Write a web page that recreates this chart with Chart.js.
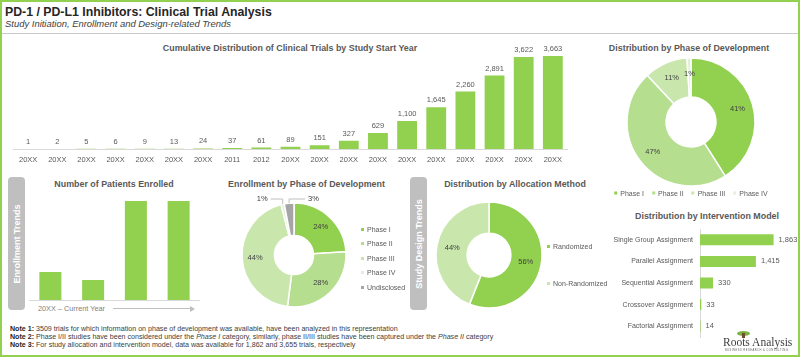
<!DOCTYPE html>
<html><head><meta charset="utf-8">
<script src="https://cdn.jsdelivr.net/npm/chart.js@4.4.1/dist/chart.umd.min.js"></script>
<style>
html,body{margin:0;padding:0;}
body{width:800px;height:357px;position:relative;overflow:hidden;background:#fff;font-family:"Liberation Sans",Arial,sans-serif;}
#frame{position:absolute;left:0;top:0;width:800px;height:357px;box-sizing:border-box;border:2px solid #92D050;pointer-events:none;}
#hline{position:absolute;left:2px;top:33px;width:796px;height:1px;background:#C8C8C8;}
canvas{position:absolute;}
.t{position:absolute;line-height:1;white-space:nowrap;}
.ctr{transform:translate(-50%,-50%);}
.lft{transform:translateY(-50%);}
.ctitle{font-weight:bold;font-size:8.9px;color:#595959;}
.side{position:absolute;background:#BFBFBF;border-radius:4px;}
.side span{position:absolute;left:50%;top:50%;transform:translate(-50%,-50%) rotate(-90deg);color:#fff;font-weight:bold;font-size:9px;white-space:nowrap;line-height:1;}
.leg{position:absolute;font-size:7px;color:#595959;line-height:1;white-space:nowrap;}
.leg .it{display:flex;align-items:center;}
.leg .mk{width:3px;height:3px;margin-right:3px;display:inline-block;}
.note{position:absolute;left:10px;font-size:7.1px;color:#404040;line-height:1;white-space:nowrap;transform:translateY(-50%);}
.note b{color:#262626;}
</style>
</head><body>
<div id="frame"></div>
<div id="hline"></div>
<div class="t lft" style="left:5px;top:11.5px;font-size:12.3px;font-weight:bold;color:#262626;">PD-1 / PD-L1 Inhibitors: Clinical Trial Analysis</div>
<div class="t lft" style="left:5px;top:24px;font-size:9.45px;font-style:italic;color:#404040;">Study Initiation, Enrollment and Design-related Trends</div>

<div class="t ctr ctitle" style="left:290px;top:48.3px;">Cumulative Distribution of Clinical Trials by Study Start Year</div>
<div class="t ctr ctitle" style="left:689px;top:48px;">Distribution by Phase of Development</div>
<div class="t ctr ctitle" style="left:114px;top:183.7px;">Number of Patients Enrolled</div>
<div class="t ctr ctitle" style="left:306.5px;top:183.7px;">Enrollment by Phase of Development</div>
<div class="t ctr ctitle" style="left:515px;top:183.7px;">Distribution by Allocation Method</div>
<div class="t ctr ctitle" style="left:707px;top:215.5px;">Distribution by Intervention Model</div>

<div class="side" style="left:8px;top:177px;width:17px;height:133px;"><span>Enrollment Trends</span></div>
<div class="side" style="left:410px;top:177px;width:17px;height:133px;"><span>Study Design Trends</span></div>

<div class="t lft" style="left:38px;top:309px;font-size:7.3px;color:#7F7F7F;">20XX – Current Year</div>
<div style="position:absolute;left:113px;top:308px;width:77px;height:1px;background:#BFBFBF;"></div>
<div style="position:absolute;left:190px;top:305.5px;width:0;height:0;border-top:3px solid transparent;border-bottom:3px solid transparent;border-left:5px solid #BFBFBF;"></div>

<canvas id="cTrials" width="555" height="130" style="left:13px;top:40px;"></canvas>
<canvas id="cPhase" width="140" height="140" style="left:621px;top:52px;"></canvas>
<canvas id="cEnrollBar" width="171" height="102" style="left:29px;top:199px;"></canvas>
<canvas id="cEnrollPhase" width="140" height="140" style="left:224px;top:185px;"></canvas>
<canvas id="cAlloc" width="130" height="130" style="left:424px;top:190px;"></canvas>
<canvas id="cModel" width="252" height="132" style="left:545px;top:217px;"></canvas>

<div id="legPhase" class="leg" style="left:691px;top:192.7px;transform:translate(-50%,-50%);display:flex;gap:8px;"></div>
<div id="legEnroll" class="leg" style="left:361px;top:229px;"></div>
<div id="legAlloc" class="leg" style="left:547px;top:246px;"></div>

<div class="note" style="top:330px;"><b>Note 1:</b> 3509 trials for which information on phase of development was available, have been analyzed in this representation</div>
<div class="note" style="top:338px;"><b>Note 2:</b> Phase I/II studies have been considered under the <i>Phase I</i> category, similarly, phase II/III studies have been captured under the <i>Phase II</i> category</div>
<div class="note" style="top:346px;"><b>Note 3:</b> For study allocation and intervention model, data was available for 1,862 and 3,655 trials, respectively</div>

<!-- logo -->
<div style="position:absolute;left:737px;top:331px;width:13px;height:5px;border-radius:50%;background:#7CB342;"></div>
<div style="position:absolute;left:742px;top:333px;width:3px;height:5px;background:#6D4C2F;"></div>
<div class="t lft" style="left:723px;top:343px;font-family:'Liberation Serif',serif;font-size:11.5px;color:#404040;">Roots Analysis</div>
<div class="t lft" style="left:725px;top:350.5px;font-size:2.6px;letter-spacing:0.5px;color:#595959;">BUSINESS RESEARCH &amp; CONSULTING</div>

<script>
// ---------------- DATA ----------------
const startYears = ['20XX','20XX','20XX','20XX','20XX','20XX','20XX','2011','2012','20XX','20XX','20XX','20XX','20XX','20XX','20XX','20XX','20XX','20XX'];
const cumulativeTrials = [1,2,5,6,9,13,24,37,61,89,151,327,629,1100,1645,2260,2891,3622,3663];

const phases = ['Phase I','Phase II','Phase III','Phase IV'];
const phaseShare = [41,47,11,1];

const enrollPeriods = ['Period 1','Period 2','Period 3','Period 4'];
const patientsEnrolled = [28,20,99,99];

const enrollPhases = ['Phase I','Phase II','Phase III','Phase IV','Undisclosed'];
const enrollShare = [24,28,44,1,3];

const allocMethods = ['Randomized','Non-Randomized'];
const allocShare = [56,44];

const interventionModels = ['Single Group Assignment','Parallel Assignment','Sequential Assignment','Crossover Assignment','Factorial Assignment'];
const interventionTrials = [1863,1415,330,33,14];

// ---------------- STYLE ----------------
const GREEN = '#92D050';
const phaseColors = ['#92D050','#B5DE8F','#C9E7AD','#E2F0D9'];
const enrollColors = ['#92D050','#B5DE8F','#C9E7AD','#E2F0D9','#A5A5A5'];
const allocColors = ['#92D050','#C9E7AD'];
const FONT = "'Liberation Sans', Arial, sans-serif";

Chart.defaults.font.family = FONT;
Chart.defaults.color = '#595959';
Chart.defaults.animation = false;

const valueLabels = {
  id: 'valueLabels',
  afterDatasetsDraw(chart, args, opts) {
    const ctx = chart.ctx;
    ctx.save();
    ctx.font = (opts.size || 7.5) + 'px ' + FONT;
    ctx.fillStyle = opts.color || '#595959';
    const ds = chart.data.datasets[0].data;
    chart.getDatasetMeta(0).data.forEach((el, i) => {
      const txt = ds[i].toLocaleString('en-US');
      if (chart.options.indexAxis === 'y') {
        ctx.textAlign = 'left'; ctx.textBaseline = 'middle';
        ctx.fillText(txt, el.x + opts.offset, el.y);
      } else {
        ctx.textAlign = 'center'; ctx.textBaseline = 'middle';
        ctx.fillText(txt, el.x, el.y - opts.offset);
      }
    });
    ctx.restore();
  }
};

const pctLabels = {
  id: 'pctLabels',
  afterDatasetsDraw(chart, args, opts) {
    const ctx = chart.ctx;
    const ds = chart.data.datasets[0].data;
    ctx.save();
    ctx.font = '7.5px ' + FONT;
    ctx.fillStyle = '#404040';
    ctx.strokeStyle = '#BFBFBF';
    ctx.lineWidth = 1;
    let outsideCount = 0;
    chart.getDatasetMeta(0).data.forEach((arc, i) => {
      const v = ds[i];
      const txt = v + '%';
      const p = arc.getProps(['x','y','startAngle','endAngle','innerRadius','outerRadius'], true);
      const mid = (p.startAngle + p.endAngle) / 2;
      if (opts.outsideBelow && v < opts.outsideBelow) {
        const ax = p.x + Math.cos(mid) * p.outerRadius;
        const ay = p.y + Math.sin(mid) * p.outerRadius;
        const ly = p.y - p.outerRadius - 4;
        const dir = outsideCount === 0 ? -1 : 1;
        outsideCount++;
        const ex = ax + dir * (dir < 0 ? 12 : 16);
        ctx.beginPath(); ctx.moveTo(ax, ay); ctx.lineTo(ax, ly); ctx.lineTo(ex, ly); ctx.stroke();
        ctx.textBaseline = 'middle';
        ctx.textAlign = dir < 0 ? 'right' : 'left';
        ctx.fillText(txt, ex + dir * 3, ly);
      } else {
        const r = p.innerRadius + (p.outerRadius - p.innerRadius) * (opts.frac || 0.5);
        ctx.textAlign = 'center'; ctx.textBaseline = 'middle';
        ctx.fillText(txt, p.x + Math.cos(mid) * r, p.y + Math.sin(mid) * r);
      }
    });
    ctx.restore();
  }
};

const base = {
  responsive: false,
  maintainAspectRatio: false,
  devicePixelRatio: 1,
  animation: false,
  events: [],
  plugins: { legend: { display: false }, tooltip: { enabled: false } }
};

// Cumulative bar chart
new Chart(document.getElementById('cTrials'), {
  type: 'bar',
  data: { labels: startYears, datasets: [{ data: cumulativeTrials, backgroundColor: GREEN, categoryPercentage: 1, barPercentage: 0.68 }] },
  options: Object.assign({}, base, {
    layout: { padding: { top: 16, left: 0, right: 0, bottom: 0 } },
    plugins: Object.assign({}, base.plugins, { valueLabels: { offset: 7 } }),
    scales: {
      x: { grid: { display: false, drawTicks: false }, border: { display: true, color: '#D9D9D9' },
           ticks: { font: { size: 7.5 }, color: '#595959', padding: 6, maxRotation: 0, autoSkip: false } },
      y: { display: false, min: 0, max: 3663 }
    }
  }),
  plugins: [valueLabels]
});

// Phase doughnut
new Chart(document.getElementById('cPhase'), {
  type: 'doughnut',
  data: { labels: phases, datasets: [{ data: phaseShare, backgroundColor: phaseColors, borderColor: '#fff', borderWidth: 1.5 }] },
  options: Object.assign({}, base, {
    radius: 64, cutout: 27,
    plugins: Object.assign({}, base.plugins, { pctLabels: { frac: 0.6 } })
  }),
  plugins: [pctLabels]
});

// Enrollment bars
new Chart(document.getElementById('cEnrollBar'), {
  type: 'bar',
  data: { labels: enrollPeriods, datasets: [{ data: patientsEnrolled, backgroundColor: GREEN, categoryPercentage: 1, barPercentage: 0.515 }] },
  options: Object.assign({}, base, {
    layout: { padding: { top: 1, bottom: 1 } },
    scales: {
      x: { grid: { display: false, drawTicks: false }, border: { display: true, color: '#D9D9D9' }, ticks: { display: false } },
      y: { display: false, min: 0, max: 100 }
    }
  })
});

// Enrollment by phase doughnut
new Chart(document.getElementById('cEnrollPhase'), {
  type: 'doughnut',
  data: { labels: enrollPhases, datasets: [{ data: enrollShare, backgroundColor: enrollColors, borderColor: '#fff', borderWidth: 1.5 }] },
  options: Object.assign({}, base, {
    radius: 52, cutout: 26,
    plugins: Object.assign({}, base.plugins, { pctLabels: { frac: 0.6, outsideBelow: 5 } })
  }),
  plugins: [pctLabels]
});

// Allocation doughnut
new Chart(document.getElementById('cAlloc'), {
  type: 'doughnut',
  data: { labels: allocMethods, datasets: [{ data: allocShare, backgroundColor: allocColors, borderColor: '#fff', borderWidth: 1.5 }] },
  options: Object.assign({}, base, {
    radius: 53, cutout: 26.5,
    plugins: Object.assign({}, base.plugins, { pctLabels: { frac: 0.5 } })
  }),
  plugins: [pctLabels]
});

// Intervention model horizontal bars
new Chart(document.getElementById('cModel'), {
  type: 'bar',
  data: { labels: interventionModels, datasets: [{ data: interventionTrials, backgroundColor: GREEN, categoryPercentage: 1, barPercentage: 0.51 }] },
  options: Object.assign({}, base, {
    indexAxis: 'y',
    layout: { padding: { right: 18, top: 12, bottom: 12, left: 0 } },
    plugins: Object.assign({}, base.plugins, { valueLabels: { offset: 5 } }),
    scales: {
      y: { grid: { display: false, drawTicks: false }, border: { display: true, color: '#D9D9D9' },
           ticks: { font: { size: 7 }, color: '#595959', padding: 7, autoSkip: false },
           afterFit: s => { s.width = 155; } },
      x: { display: false, min: 0, max: 2000 }
    }
  }),
  plugins: [valueLabels]
});

// Legends built from the data arrays
function buildLegend(id, labels, colors, spacing) {
  const el = document.getElementById(id);
  labels.forEach((l, i) => {
    const it = document.createElement('div');
    it.className = 'it';
    if (spacing) it.style.height = spacing + 'px';
    it.innerHTML = '<span class="mk" style="background:' + colors[i] + '"></span>' + l;
    el.appendChild(it);
  });
  if (spacing) { el.style.top = (parseFloat(el.style.top) - spacing / 2) + 'px'; }
}
buildLegend('legPhase', phases, phaseColors, 0);
buildLegend('legEnroll', enrollPhases, enrollColors, 14.5);
buildLegend('legAlloc', allocMethods, allocColors, 37);
</script>
</body></html>
